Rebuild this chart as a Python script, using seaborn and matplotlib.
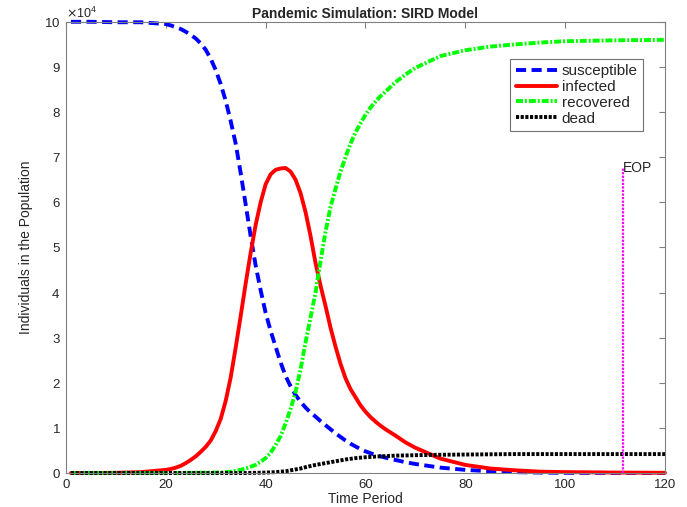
import numpy as np
import pandas as pd
import matplotlib
matplotlib.use("Agg")
import matplotlib.pyplot as plt
import matplotlib.ticker as mticker
import seaborn as sns

# Time points
time = [1, 5, 10, 15, 20, 21, 22, 23, 24, 25, 26, 27, 28, 29, 30, 31, 32, 33, 34,
        35, 36, 37, 38, 39, 40, 41, 42, 43, 44, 45, 46, 47, 48, 49, 50, 51, 52,
        53, 54, 55, 56, 57, 58, 59, 60, 61, 62, 63, 64, 66, 68, 70, 75, 80, 85,
        90, 95, 100, 110, 120]

# Values in units of 1e4 people
susceptible = [10.0, 10.0, 9.99, 9.99, 9.95, 9.92, 9.88, 9.84, 9.78, 9.71, 9.63, 9.52,
               9.38, 9.18, 8.93, 8.62, 8.25, 7.80, 7.30, 6.65, 5.95, 5.25, 4.60, 4.05,
               3.55, 3.15, 2.80, 2.45, 2.15, 1.92, 1.73, 1.58, 1.45, 1.34, 1.25, 1.15,
               1.06, 0.97, 0.88, 0.80, 0.72, 0.65, 0.59, 0.53, 0.48, 0.44, 0.40, 0.37,
               0.34, 0.29, 0.24, 0.20, 0.12, 0.07, 0.04, 0.02, 0.01, 0.005, 0.002, 0.001]
infected = [0.0, 0.0, 0.005, 0.02, 0.07, 0.09, 0.12, 0.16, 0.22, 0.29, 0.37, 0.47,
            0.58, 0.72, 0.93, 1.20, 1.60, 2.12, 2.78, 3.48, 4.20, 4.88, 5.50, 6.00,
            6.40, 6.62, 6.72, 6.75, 6.76, 6.68, 6.50, 6.20, 5.78, 5.25, 4.65, 4.15,
            3.70, 3.22, 2.80, 2.42, 2.10, 1.86, 1.68, 1.50, 1.36, 1.24, 1.14, 1.05,
            0.97, 0.83, 0.68, 0.56, 0.32, 0.18, 0.10, 0.06, 0.03, 0.02, 0.01, 0.005]
recovered = [0.0, 0.0, 0.0, 0.0, 0.0, 0.0, 0.0, 0.0, 0.0, 0.0, 0.005, 0.006,
             0.008, 0.009, 0.01, 0.015, 0.02, 0.03, 0.05, 0.07, 0.10, 0.14, 0.18, 0.25,
             0.33, 0.45, 0.62, 0.82, 1.10, 1.42, 1.80, 2.30, 2.90, 3.45, 4.00, 4.70,
             5.35, 5.90, 6.30, 6.68, 7.00, 7.30, 7.55, 7.75, 7.94, 8.10, 8.23, 8.35,
             8.45, 8.66, 8.83, 8.98, 9.24, 9.37, 9.45, 9.50, 9.54, 9.57, 9.59, 9.60]
dead = [0.0, 0.0, 0.0, 0.0, 0.0, 0.0, 0.0, 0.0, 0.0, 0.0, 0.0, 0.0,
        0.0, 0.0, 0.0, 0.0, 0.0, 0.0, 0.0, 0.0, 0.0, 0.003, 0.005, 0.007,
        0.01, 0.015, 0.02, 0.03, 0.04, 0.06, 0.08, 0.10, 0.13, 0.155, 0.18, 0.20,
        0.22, 0.24, 0.26, 0.28, 0.30, 0.315, 0.33, 0.34, 0.35, 0.357, 0.364, 0.37,
        0.375, 0.385, 0.39, 0.395, 0.405, 0.41, 0.415, 0.42, 0.42, 0.42, 0.42, 0.42]

eop_time = 111.5

df = pd.DataFrame({
    "time": time,
    "susceptible": np.array(susceptible) * 1e4,
    "infected": np.array(infected) * 1e4,
    "recovered": np.array(recovered) * 1e4,
    "dead": np.array(dead) * 1e4,
})

sns.set_style("white")
plt.rcParams['font.family'] = ['Liberation Sans', 'DejaVu Sans']

fig = plt.figure(figsize=(6.87, 5.07), dpi=100)
ax = fig.add_axes([0.096, 0.067, 0.872, 0.89])

# style for each series: colour, dash pattern, label
styles = [("susceptible", "#0000ff", (0, (2.6, 1.4))),
          ("infected", "#ff0000", "-"),
          ("recovered", "#00ff00", (0, (1.8, 0.5, 0.5, 0.5))),
          ("dead", "#000000", (0, (0.8, 0.4)))]
for name, color, ls in styles:
    sns.lineplot(data=df, x="time", y=name, ax=ax, color=color, linestyle=ls,
                 linewidth=2.8, label=name, clip_on=False)

# end-of-period marker up to the infected peak
peak = df["infected"].max()
ax.plot([eop_time, eop_time], [0, peak], color="#ff00ff", linestyle=(0, (1, 0.6)),
        linewidth=1.6)
ax.text(eop_time, peak, "EOP", fontsize=10, ha="left", va="center")

ax.set_xlim(0, 120)
ax.set_ylim(0, 1e5)
ax.set_xticks(np.arange(0, 121, 20))
ax.set_yticks(np.arange(0, 100001, 10000))
fmt = mticker.ScalarFormatter(useMathText=True)
fmt.set_powerlimits((4, 4))
ax.yaxis.set_major_formatter(fmt)
ax.yaxis.get_offset_text().set_fontsize(9)
ax.yaxis.get_offset_text().set_color("0.15")

ax.tick_params(direction="in", top=True, right=True, length=4, width=0.8,
               color="0.5", labelsize=9.5, labelcolor="0.15", pad=4)
for s in ax.spines.values():
    s.set_color("0.5")
    s.set_linewidth(0.8)

ax.set_xlabel("Time Period", fontsize=10, color="0.15", labelpad=1)
ax.set_ylabel("Individuals in the Population", fontsize=10, color="0.15", labelpad=8)
ax.set_title("Pandemic Simulation: SIRD Model", fontsize=10, fontweight="bold", pad=3)

leg = ax.legend(loc="upper right", bbox_to_anchor=(0.963, 0.918), fontsize=11,
                frameon=True, fancybox=False, handlelength=2.7, handletextpad=0.3,
                labelspacing=0.12, borderpad=0.35, borderaxespad=0)
leg.get_frame().set_edgecolor("0.3")
leg.get_frame().set_linewidth(0.8)

fig.savefig("out.png", dpi=100)
